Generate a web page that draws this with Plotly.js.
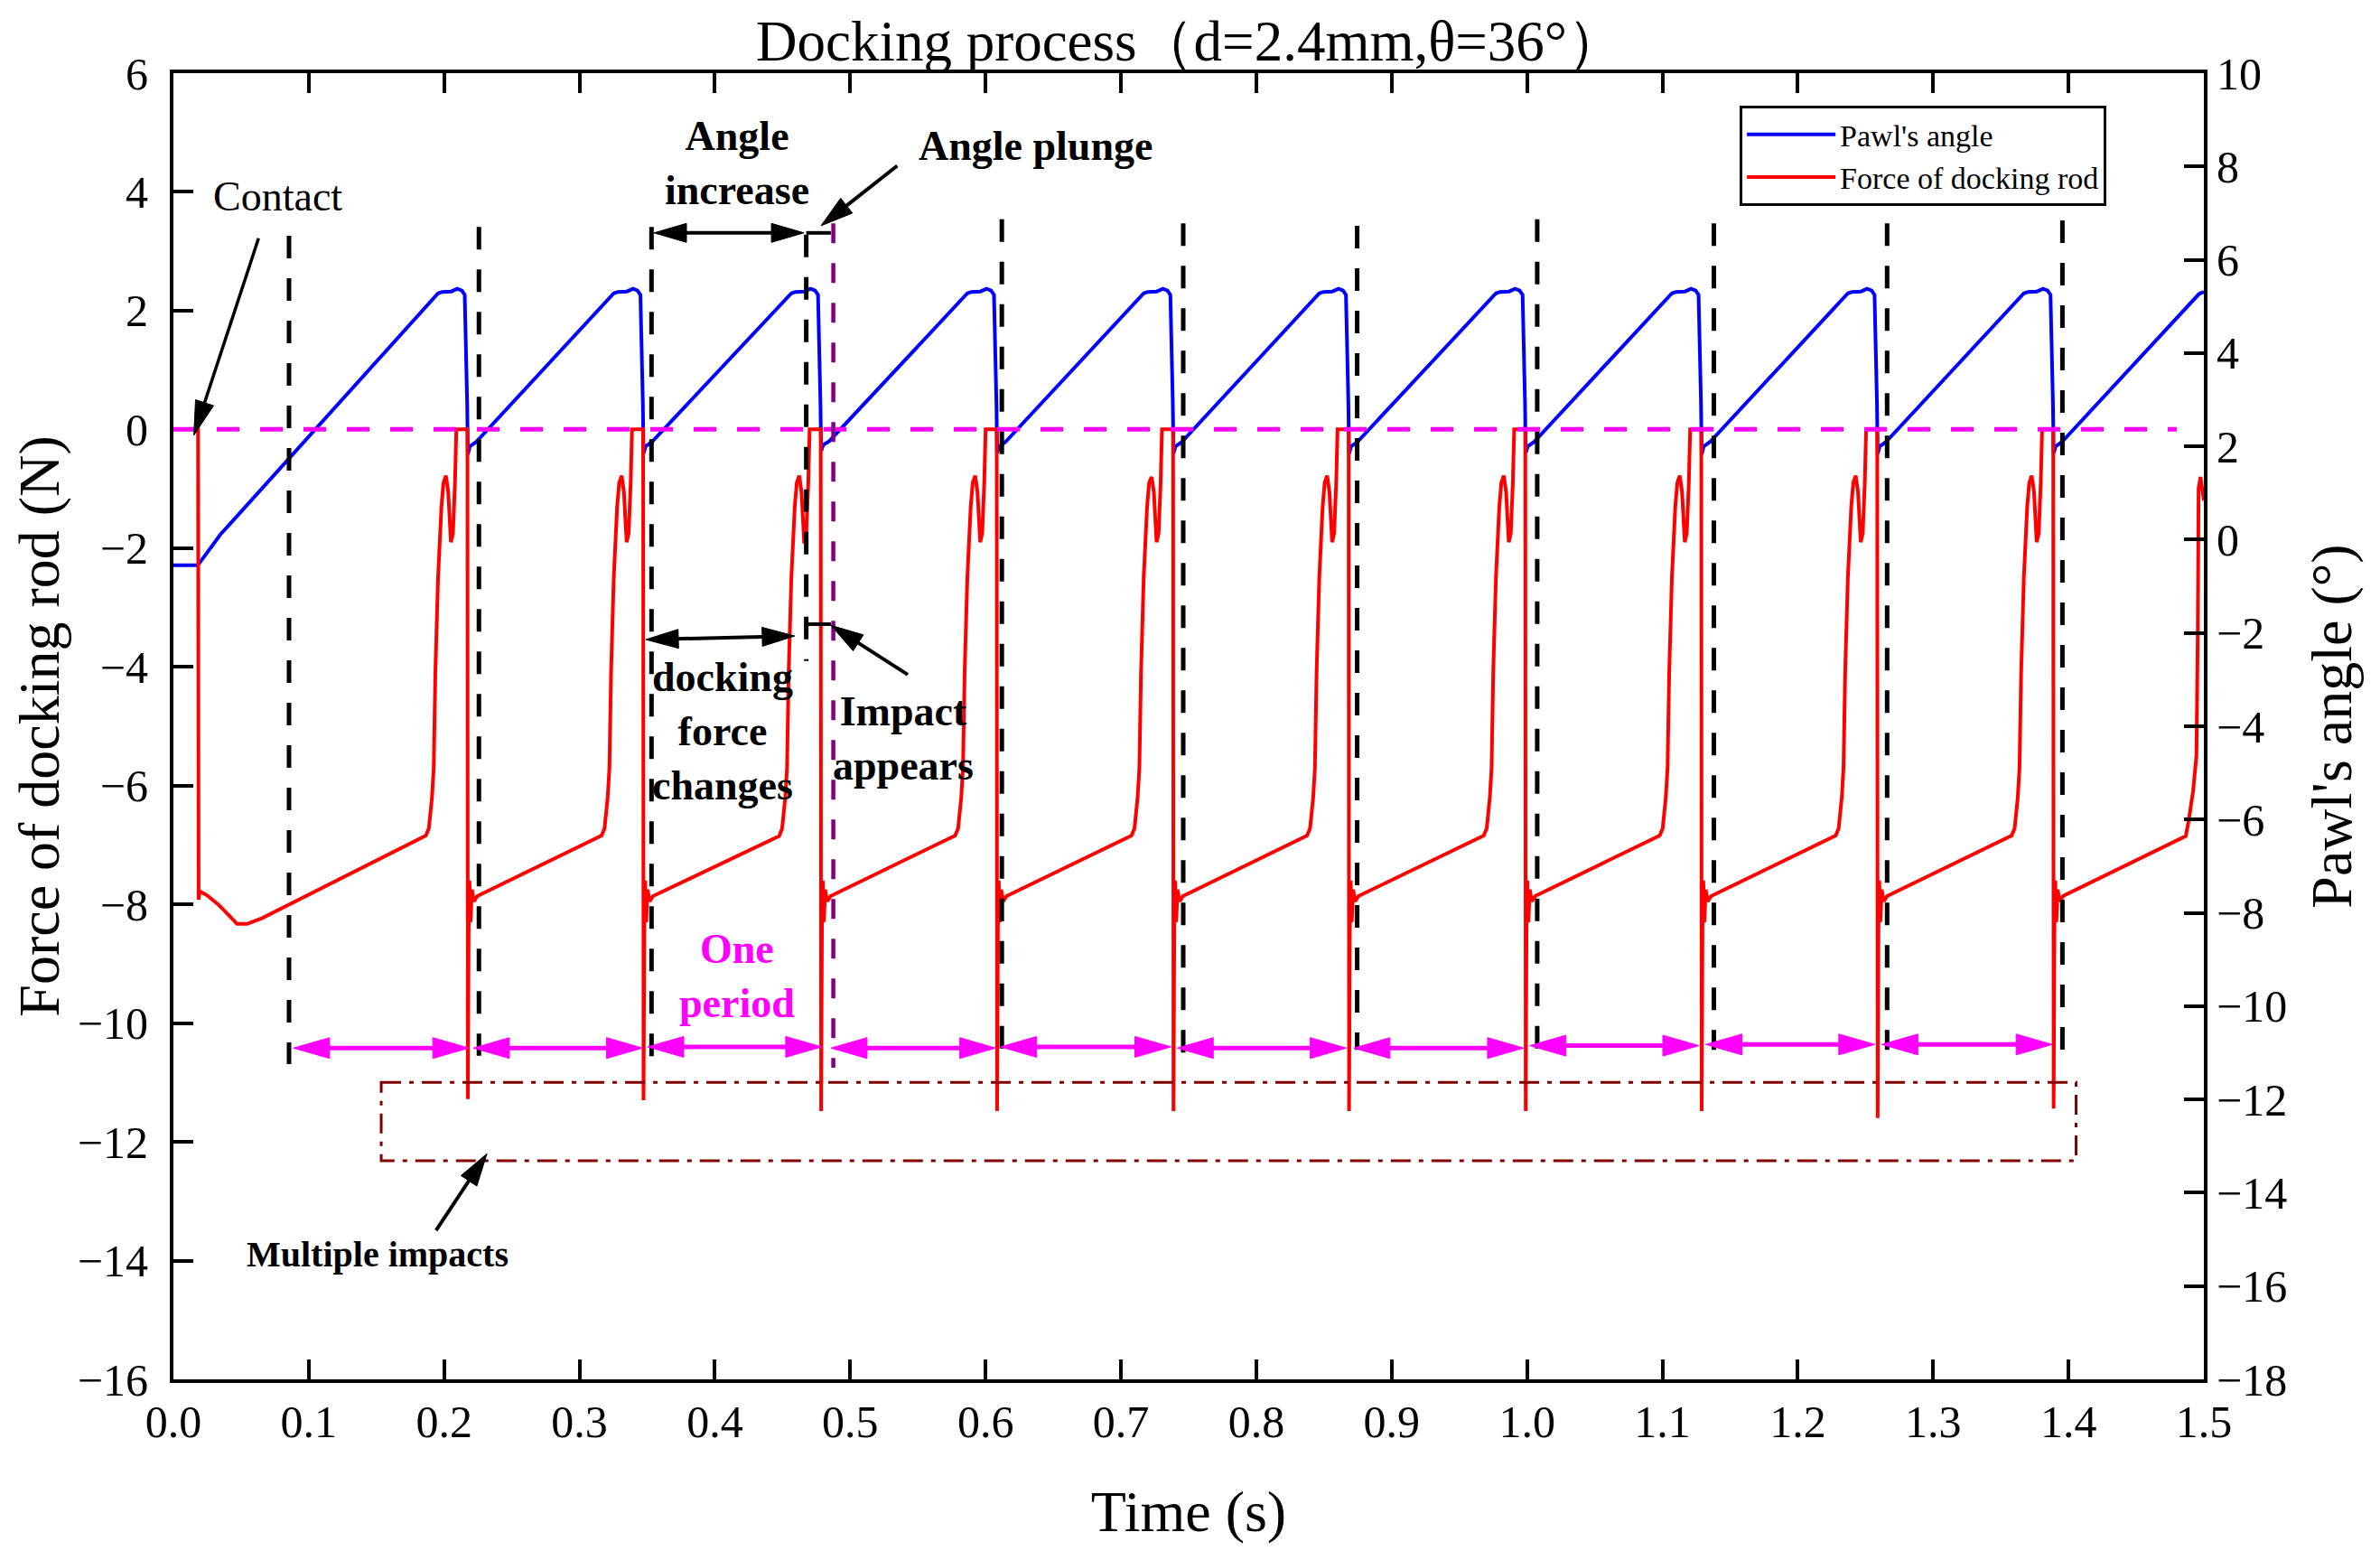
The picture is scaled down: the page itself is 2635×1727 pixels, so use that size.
<!DOCTYPE html>
<html>
<head>
<meta charset="utf-8">
<script src="https://cdn.plot.ly/plotly-3.0.1.min.js"></script>
<style>html,body{margin:0;padding:0;background:#fff;}#chart{width:2635px;height:1727px;}</style>
</head>
<body>
<div id="chart"></div>
<script>
// ---------------- data ----------------
const forceTime = [
0, 0.0182, 0.0186, 0.0195, 0.025, 0.033, 0.0404, 0.047, 0.0544, 0.0657,
0.1865, 0.1887, 0.191, 0.1923, 0.1935, 0.1955, 0.198, 0.1995, 0.2013, 0.203, 0.205, 0.2065, 0.208, 0.209, 0.2172,
0.2175, 0.2181, 0.2187, 0.2195, 0.2205, 0.222, 0.2245,
0.3163, 0.3185, 0.3208, 0.3221, 0.3233, 0.3253, 0.3278, 0.3293, 0.3311, 0.3328, 0.3348, 0.3363, 0.3378, 0.3388, 0.347,
0.3473, 0.3479, 0.3485, 0.3493, 0.3503, 0.3518, 0.3543,
0.4475, 0.4497, 0.452, 0.4533, 0.4545, 0.4565, 0.459, 0.4605, 0.4623, 0.464, 0.466, 0.4675, 0.469, 0.47, 0.4782,
0.4785, 0.4791, 0.4797, 0.4805, 0.4815, 0.483, 0.4855,
0.5775, 0.5797, 0.582, 0.5833, 0.5845, 0.5865, 0.589, 0.5905, 0.5923, 0.594, 0.596, 0.5975, 0.599, 0.6, 0.6082,
0.6085, 0.6091, 0.6097, 0.6105, 0.6115, 0.613, 0.6155,
0.7078, 0.71, 0.7123, 0.7136, 0.7148, 0.7168, 0.7193, 0.7208, 0.7226, 0.7243, 0.7263, 0.7278, 0.7293, 0.7303, 0.7385,
0.7388, 0.7394, 0.74, 0.7408, 0.7418, 0.7433, 0.7458,
0.8375, 0.8397, 0.842, 0.8433, 0.8445, 0.8465, 0.849, 0.8505, 0.8523, 0.854, 0.856, 0.8575, 0.859, 0.86, 0.8682,
0.8685, 0.8691, 0.8697, 0.8705, 0.8715, 0.873, 0.8755,
0.968, 0.9702, 0.9725, 0.9738, 0.975, 0.977, 0.9795, 0.981, 0.9828, 0.9845, 0.9865, 0.988, 0.9895, 0.9905, 0.9987,
0.999, 0.9996, 1.0002, 1.001, 1.002, 1.0035, 1.006,
1.098, 1.1002, 1.1025, 1.1038, 1.105, 1.107, 1.1095, 1.111, 1.1128, 1.1145, 1.1165, 1.118, 1.1195, 1.1205, 1.1287,
1.129, 1.1296, 1.1302, 1.131, 1.132, 1.1335, 1.136,
1.228, 1.2302, 1.2325, 1.2338, 1.235, 1.237, 1.2395, 1.241, 1.2428, 1.2445, 1.2465, 1.248, 1.2495, 1.2505, 1.2587,
1.259, 1.2596, 1.2602, 1.261, 1.262, 1.2635, 1.266,
1.358, 1.3602, 1.3625, 1.3638, 1.365, 1.367, 1.3695, 1.371, 1.3728, 1.3745, 1.3765, 1.378, 1.3795, 1.3805, 1.3887,
1.389, 1.3896, 1.3902, 1.391, 1.392, 1.3935, 1.396,
1.4866, 1.4887, 1.492, 1.4945, 1.4955, 1.4961, 1.4975, 1.5
];
const forceValue = [
0, 0, -7.92, -7.78, -7.85, -8.0, -8.17, -8.33, -8.33, -8.23,
-6.84, -6.72, -6.2, -5.7, -4.1, -2.5, -1.3, -0.9, -0.78, -1.05, -1.9, -1.75, -0.9, 0, 0,
-11.28, -8.4, -7.6, -8.3, -7.75, -7.95, -7.86,
-6.84, -6.72, -6.2, -5.7, -4.1, -2.5, -1.3, -0.9, -0.78, -1.05, -1.9, -1.75, -0.9, 0, 0,
-11.3, -8.4, -7.6, -8.3, -7.75, -7.95, -7.86,
-6.85, -6.72, -6.2, -5.7, -4.1, -2.5, -1.3, -0.9, -0.78, -1.05, -1.92, -1.75, -0.9, 0, 0,
-11.48, -8.4, -7.6, -8.3, -7.75, -7.95, -7.86,
-6.84, -6.72, -6.2, -5.7, -4.1, -2.5, -1.3, -0.9, -0.78, -1.05, -1.9, -1.75, -0.9, 0, 0,
-11.48, -8.4, -7.6, -8.3, -7.75, -7.95, -7.86,
-6.84, -6.72, -6.2, -5.7, -4.1, -2.5, -1.3, -0.9, -0.8, -1.05, -1.9, -1.75, -0.9, 0, 0,
-11.48, -8.4, -7.6, -8.3, -7.75, -7.95, -7.86,
-6.84, -6.72, -6.2, -5.7, -4.1, -2.5, -1.3, -0.9, -0.78, -1.05, -1.9, -1.75, -0.9, 0, 0,
-11.48, -8.4, -7.6, -8.3, -7.75, -7.95, -7.86,
-6.84, -6.72, -6.2, -5.7, -4.1, -2.5, -1.3, -0.9, -0.78, -1.05, -1.9, -1.75, -0.9, 0, 0,
-11.48, -8.4, -7.6, -8.3, -7.75, -7.95, -7.86,
-6.84, -6.72, -6.2, -5.7, -4.1, -2.5, -1.3, -0.9, -0.78, -1.05, -1.9, -1.75, -0.9, 0, 0,
-11.48, -8.4, -7.6, -8.3, -7.75, -7.95, -7.86,
-6.84, -6.72, -6.2, -5.7, -4.1, -2.5, -1.3, -0.9, -0.78, -1.05, -1.9, -1.75, -0.9, 0, 0,
-11.6, -8.4, -7.6, -8.3, -7.75, -7.95, -7.86,
-6.84, -6.72, -6.2, -5.7, -4.1, -2.5, -1.3, -0.9, -0.78, -1.05, -1.9, -1.75, -0.9, 0, 0,
-11.44, -8.4, -7.6, -8.3, -7.75, -7.95, -7.86,
-6.85, -6.6, -6.1, -5.5, -3.4, -1.0, -0.8, -1.2
];
const angleTime = [
0, 0.018, 0.0347, 0.1925, 0.1955, 0.1985, 0.2052, 0.2097, 0.213, 0.2152, 0.2162, 0.217,
0.2175, 0.219, 0.2235, 0.3223, 0.3253, 0.3283, 0.335, 0.3395, 0.3428, 0.345, 0.346, 0.3468,
0.3473, 0.3488, 0.3533, 0.4535, 0.4565, 0.4595, 0.4662, 0.4707, 0.474, 0.4762, 0.4772, 0.478,
0.4785, 0.48, 0.4845, 0.5835, 0.5865, 0.5895, 0.5962, 0.6007, 0.604, 0.6062, 0.6072, 0.608,
0.6085, 0.61, 0.6145, 0.7138, 0.7168, 0.7198, 0.7265, 0.731, 0.7343, 0.7365, 0.7375, 0.7383,
0.7388, 0.7403, 0.7448, 0.8435, 0.8465, 0.8495, 0.8562, 0.8607, 0.864, 0.8662, 0.8672, 0.868,
0.8685, 0.87, 0.8745, 0.974, 0.977, 0.98, 0.9867, 0.9912, 0.9945, 0.9967, 0.9977, 0.9985,
0.999, 1.0005, 1.005, 1.104, 1.107, 1.11, 1.1167, 1.1212, 1.1245, 1.1267, 1.1277, 1.1285,
1.129, 1.1305, 1.135, 1.234, 1.237, 1.24, 1.2467, 1.2512, 1.2545, 1.2567, 1.2577, 1.2585,
1.259, 1.2605, 1.265, 1.364, 1.367, 1.37, 1.3767, 1.3812, 1.3845, 1.3867, 1.3877, 1.3885,
1.389, 1.3905, 1.395, 1.4935, 1.4965, 1.5
];
const angleValue = [
-0.55, -0.55, 0.11, 5.18, 5.28, 5.31, 5.32, 5.38, 5.34, 5.25, 4.21, 2.93,
1.83, 2.0, 2.09, 5.18, 5.28, 5.31, 5.32, 5.38, 5.34, 5.25, 4.21, 2.93,
1.85, 2.0, 2.09, 5.18, 5.28, 5.31, 5.32, 5.38, 5.34, 5.25, 4.21, 2.93,
1.9, 2.03, 2.11, 5.18, 5.28, 5.31, 5.32, 5.38, 5.34, 5.25, 4.21, 2.93,
1.86, 2.0, 2.09, 5.18, 5.28, 5.31, 5.32, 5.38, 5.34, 5.25, 4.21, 2.93,
1.85, 2.0, 2.09, 5.18, 5.28, 5.31, 5.32, 5.38, 5.34, 5.25, 4.21, 2.93,
1.84, 2.0, 2.09, 5.18, 5.28, 5.31, 5.32, 5.38, 5.34, 5.25, 4.21, 2.93,
1.86, 2.0, 2.09, 5.18, 5.28, 5.31, 5.32, 5.38, 5.34, 5.25, 4.21, 2.93,
1.83, 2.0, 2.09, 5.18, 5.28, 5.31, 5.32, 5.38, 5.34, 5.25, 4.21, 2.93,
1.84, 2.0, 2.09, 5.18, 5.28, 5.31, 5.32, 5.38, 5.34, 5.25, 4.21, 2.93,
1.85, 2.0, 2.09, 5.18, 5.27, 5.31
];

// tick labels
const xTicks = [0,0.1,0.2,0.3,0.4,0.5,0.6,0.7,0.8,0.9,1.0,1.1,1.2,1.3,1.4,1.5];
const forceTicks = [-16,-14,-12,-10,-8,-6,-4,-2,0,2,4,6];
const angleTicks = [-18,-16,-14,-12,-10,-8,-6,-4,-2,0,2,4,6,8,10];

// guide lines (time positions of the vertical dashed markers, in force units)
const guideX = [0.0854, 0.2257, 0.3532, 0.4675, 0.612, 0.746, 0.8745, 1.0075, 1.138, 1.266, 1.3955];
const guideTop = [3.26, 3.41, 3.41, 3.28, 3.54, 3.47, 3.43, 3.54, 3.47, 3.47, 3.52];
const guideBottom = [-10.69, -10.55, -10.57, -3.9, -10.5, -10.5, -10.45, -10.45, -10.45, -10.45, -10.45];
// "one period" arrows
const periodStart = [0.0887, 0.2215, 0.3503, 0.4857, 0.611, 0.7415, 0.872, 1.002, 1.132, 1.262];
const periodEnd   = [0.2183, 0.3466, 0.479, 0.6075, 0.737, 0.8665, 0.9975, 1.127, 1.257, 1.388];
const periodLevel = [-10.42, -10.42, -10.4, -10.42, -10.4, -10.42, -10.42, -10.38, -10.36, -10.36];

// ---------------- layout geometry ----------------
const W = 2635, H = 1727;
const M = {l: 192, r: 195, t: 81, b: 200};
const xRange = [0, 1.5], fRange = [-16, 6], aRange = [-18, 10];
const kx = (W - M.l - M.r) / (xRange[1] - xRange[0]);
const ky = (H - M.t - M.b) / (fRange[1] - fRange[0]);
const FONT = 'Liberation Serif, Times New Roman, serif';

function headPath(tx, ty, fx, fy, L, Wd) {
  const dx = (tx - fx) * kx, dy = (ty - fy) * ky;
  const len = Math.hypot(dx, dy);
  const ux = dx / len, uy = dy / len;
  const bx = tx * kx - ux * L, by = ty * ky - uy * L;
  const px = -uy, py = ux;
  const p1x = (bx + px * Wd) / kx, p1y = (by + py * Wd) / ky;
  const p2x = (bx - px * Wd) / kx, p2y = (by - py * Wd) / ky;
  return 'M' + tx + ',' + ty + 'L' + p1x + ',' + p1y + 'L' + p2x + ',' + p2y + 'Z';
}
function backOff(tx, ty, fx, fy, d) {
  const dx = (tx - fx) * kx, dy = (ty - fy) * ky;
  const len = Math.hypot(dx, dy);
  return [tx - dx / len * d / kx, ty - dy / len * d / ky];
}
function arrow(x0, y0, x1, y1, color, lw, L, Wd, both) {
  const out = [];
  const e = backOff(x1, y1, x0, y0, L * 0.7);
  const s = both ? backOff(x0, y0, x1, y1, L * 0.7) : [x0, y0];
  out.push({type: 'line', xref: 'x', yref: 'y2', x0: s[0], y0: s[1], x1: e[0], y1: e[1],
            line: {color: color, width: lw}});
  out.push({type: 'path', xref: 'x', yref: 'y2', path: headPath(x1, y1, x0, y0, L, Wd),
            fillcolor: color, line: {color: color, width: 1}});
  if (both) out.push({type: 'path', xref: 'x', yref: 'y2', path: headPath(x0, y0, x1, y1, L, Wd),
            fillcolor: color, line: {color: color, width: 1}});
  return out;
}

const shapes = [];
// magenta zero line
shapes.push({type: 'line', xref: 'x', yref: 'y2', x0: 0, x1: 1.48, y0: 0, y1: 0,
             line: {color: '#FF00FF', width: 5, dash: '25px,23px'}});
// black vertical dashed markers
guideX.forEach((x, i) => shapes.push({type: 'line', xref: 'x', yref: 'y2', x0: x, x1: x,
  y0: guideTop[i], y1: guideBottom[i], line: {color: '#000000', width: 5, dash: '25px,22px'}}));
// purple dashed marker
shapes.push({type: 'line', xref: 'x', yref: 'y2', x0: 0.4875, x1: 0.4875, y0: 3.47, y1: -10.75,
             line: {color: '#800080', width: 4.5, dash: '22px,22px'}});
// dash-dot box
shapes.push({type: 'rect', xref: 'x', yref: 'y2', x0: 0.1535, x1: 1.4056, y0: -11.0, y1: -12.32,
             line: {color: '#800000', width: 3, dash: '22px,9px,5px,9px'}});
// small brackets
shapes.push({type: 'line', xref: 'x', yref: 'y2', x0: 0.4675, x1: 0.4857, y0: 3.31, y1: 3.31, line: {color: '#000', width: 4}});
shapes.push({type: 'line', xref: 'x', yref: 'y2', x0: 0.4675, x1: 0.4857, y0: -3.28, y1: -3.28, line: {color: '#000', width: 4}});
// one period arrows
periodStart.forEach((x, i) => shapes.push(...arrow(x, periodLevel[i], periodEnd[i], periodLevel[i], '#FF00FF', 5, 40, 11.5, true)));
// black annotation arrows
shapes.push(...arrow(0.355, 3.31, 0.4658, 3.31, '#000', 4, 36, 10.5, true));
shapes.push(...arrow(0.349, -3.54, 0.459, -3.48, '#000', 4, 36, 10.5, true));
shapes.push(...arrow(0.0629, 3.22, 0.0151, -0.1, '#000', 3.5, 38, 10.5, false));
shapes.push(...arrow(0.5347, 4.44, 0.4784, 3.43, '#000', 4, 36, 10.5, false));
shapes.push(...arrow(0.5425, -4.13, 0.4857, -3.3, '#000', 4, 36, 10.5, false));
shapes.push(...arrow(0.194, -13.49, 0.2316, -12.2, '#000', 4, 36, 10.5, false));

function txt(x, y, text, size, bold, color, xanchor) {
  return {xref: 'x', yref: 'y2', x: x, y: y, text: bold ? '<b>' + text + '</b>' : text, showarrow: false,
          xanchor: xanchor || 'center', yanchor: 'middle', align: 'center',
          font: {family: FONT, size: size, color: color || '#000'}};
}
const annotations = [
  txt(0.028, 3.93, 'Contact', 46, false, '#000', 'left'),
  txt(0.4167, 4.49, 'Angle<br>increase', 46, true),
  txt(0.6366, 4.77, 'Angle plunge', 46, true),
  txt(0.406, -5.08, 'docking<br>force<br>changes', 46, true),
  txt(0.539, -5.2, 'Impact<br>appears', 46, true),
  txt(0.4167, -9.2, 'One<br>period', 46, true, '#FF00FF'),
  txt(0.1508, -13.9, 'Multiple impacts', 40, true)
];

const traces = [
  {x: angleTime, y: angleValue, type: 'scatter', mode: 'lines', name: "Pawl's angle",
   yaxis: 'y', line: {color: '#0000FF', width: 4}},
  {x: forceTime, y: forceValue, type: 'scatter', mode: 'lines', name: 'Force of docking rod',
   yaxis: 'y2', line: {color: '#FF0000', width: 4}}
];

const axisCommon = {
  showline: true, linecolor: '#000', linewidth: 4, ticks: 'inside', ticklen: 22, tickwidth: 4,
  tickcolor: '#000', showgrid: false, zeroline: false, automargin: false,
  tickfont: {family: FONT, size: 50, color: '#000'}
};

const layout = {
  width: W, height: H, margin: M, paper_bgcolor: '#fff', plot_bgcolor: '#fff',
  title: {text: 'Docking process（d=2.4mm,θ=36°）', font: {family: FONT, size: 63, color: '#000'},
          x: 0.5, xanchor: 'center', y: 0.974, yanchor: 'middle'},
  xaxis: Object.assign({}, axisCommon, {range: xRange, tickvals: xTicks, tickformat: '.1f', mirror: 'ticks',
          ticklabelstandoff: 0,
          title: {text: 'Time (s)', font: {family: FONT, size: 64, color: '#000'}, standoff: 50}}),
  yaxis: Object.assign({}, axisCommon, {range: aRange, tickvals: angleTicks, side: 'right',
          ticklabelstandoff: 0,
          title: {text: "Pawl's angle (°)", font: {family: FONT, size: 64, color: '#000'}, standoff: 28}}),
  yaxis2: Object.assign({}, axisCommon, {range: fRange, tickvals: forceTicks, side: 'left', overlaying: 'y',
          ticklabelstandoff: 14,
          title: {text: 'Force of docking rod (N)', font: {family: FONT, size: 64, color: '#000'}, standoff: 0}}),
  showlegend: true,
  legend: {x: 0.7714, y: 0.975, xanchor: 'left', yanchor: 'top', bgcolor: '#fff', bordercolor: '#000',
           borderwidth: 3, font: {family: FONT, size: 34, color: '#000'}, itemwidth: 98, tracegroupgap: 0},
  shapes: shapes,
  annotations: annotations
};

Plotly.newPlot('chart', traces, layout, {displayModeBar: false, staticPlot: true});
</script>
</body>
</html>
